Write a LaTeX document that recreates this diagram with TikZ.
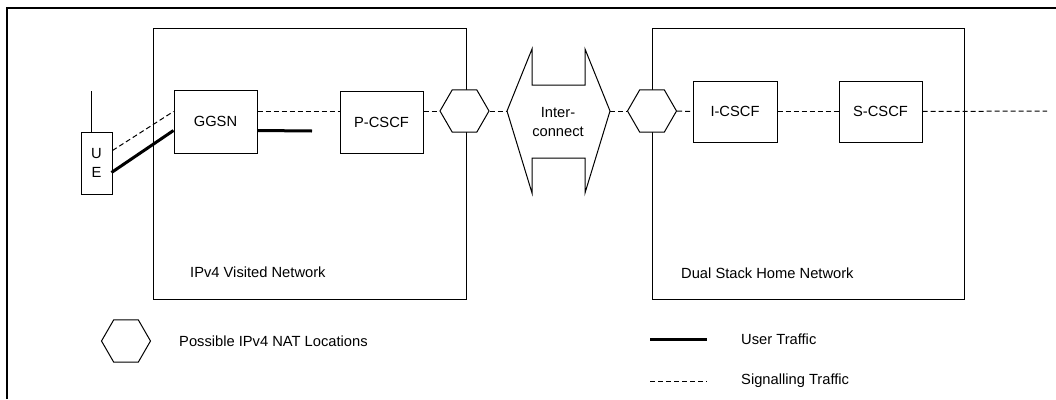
\documentclass[tikz,border=0pt]{standalone}
\usepackage{fontspec}
\setmainfont{Liberation Sans}
\usetikzlibrary{shapes.geometric,calc}
\begin{document}
\begin{tikzpicture}[x=1pt,y=-1pt,
  every node/.style={font=\fontsize{14.7}{19}\selectfont, inner sep=0pt},
  box/.style={draw, line width=1pt, fill=white, align=center},
  hexa/.style={draw, line width=1pt, fill=white, regular polygon, regular polygon sides=6, minimum size=49pt},
  sig/.style={line width=1pt, dash pattern=on 5pt off 3pt},
  usr/.style={line width=3pt},
  lbl/.style={anchor=west}
]
\useasboundingbox (0,0) rectangle (1056,399);
% outer frame
\draw[line width=1.2pt] (7,399) -- (7,8) -- (1056,8);
% networks
\node[box, minimum width=313pt, minimum height=271pt] (visited) at (309.5,163.5) {};
\node[box, minimum width=312pt, minimum height=271pt] (home) at (808,163.5) {};
\node[lbl] (vlabel) at (190,272) {IPv4 Visited Network};
\node[lbl] (hlabel) at (681,273) {Dual Stack Home Network};
% elements
\node[box, minimum width=31pt, minimum height=62pt] (ue) at (96.5,163) {U\\E};
\node[box, minimum width=83pt, minimum height=63pt] (ggsn) at (215.5,121.5) {GGSN};
\node[box, minimum width=83pt, minimum height=62pt] (pcscf) at (381.5,122) {P-CSCF};
\node[box, minimum width=84pt, minimum height=61pt] (icscf) at (735,111.5) {I-CSCF};
\node[box, minimum width=83pt, minimum height=61pt] (scscf) at (880.5,111.5) {S-CSCF};
\node[hexa] (nat1) at (464.5,111) {};
\node[hexa] (nat2) at (652,111) {};
% antenna
\coordinate (ant) at (91,91);
\draw[line width=1pt] (ant) -- (ant |- ue.north);
% interconnect
\coordinate (icL) at (507,111);
\coordinate (icR) at (610,111);
\draw[line width=1pt, fill=white] (icL) -- (532,49) -- (532,85) -- (585,85) -- (585,49) -- (icR)
  -- (585,193) -- (585,158) -- (532,158) -- (532,193) -- cycle;
\node[align=center] (ic) at (558,122) {Inter-\\connect};
% signalling line
\coordinate (sy) at (0,111);
\coordinate (sigend) at (1047,111);
\draw[sig] ($(ue.north east)+(0,19)$) -- ($(ggsn.north west)+(0,22)$);
\draw[sig] (ggsn.east |- sy) -- (pcscf.west |- sy);
\draw[sig] (pcscf.east |- sy) -- (nat1.west);
\draw[sig] (nat1.east) -- (icL);
\draw[sig] (icR) -- (nat2.west);
\draw[sig] (nat2.east) -- (icscf.west);
\draw[sig] (icscf.east) -- (scscf.west);
\draw[sig] (scscf.east) -- (sigend);
% user traffic
\coordinate (uend) at (312,131);
\draw[usr] ($(ue.south east)+(-1,-22)$) -- ($(ggsn.north west)+(0,41)$);
\draw[usr] ($(ggsn.north east)+(0,41)$) -- (uend);
% legend
\node[hexa] (lhex) at (126,341) {};
\node[lbl] (lnat) at (179,341) {Possible IPv4 NAT Locations};
\coordinate (lu1) at (650,339);
\coordinate (lu2) at (707,339);
\draw[usr] (lu1) -- (lu2);
\node[lbl] (lut) at (741,339) {User Traffic};
\coordinate (ls1) at (650,381);
\coordinate (ls2) at (707,381);
\draw[sig] (ls1) -- (ls2);
\node[lbl] (lst) at (741,381) {Signalling Traffic};
\end{tikzpicture}
\end{document}
